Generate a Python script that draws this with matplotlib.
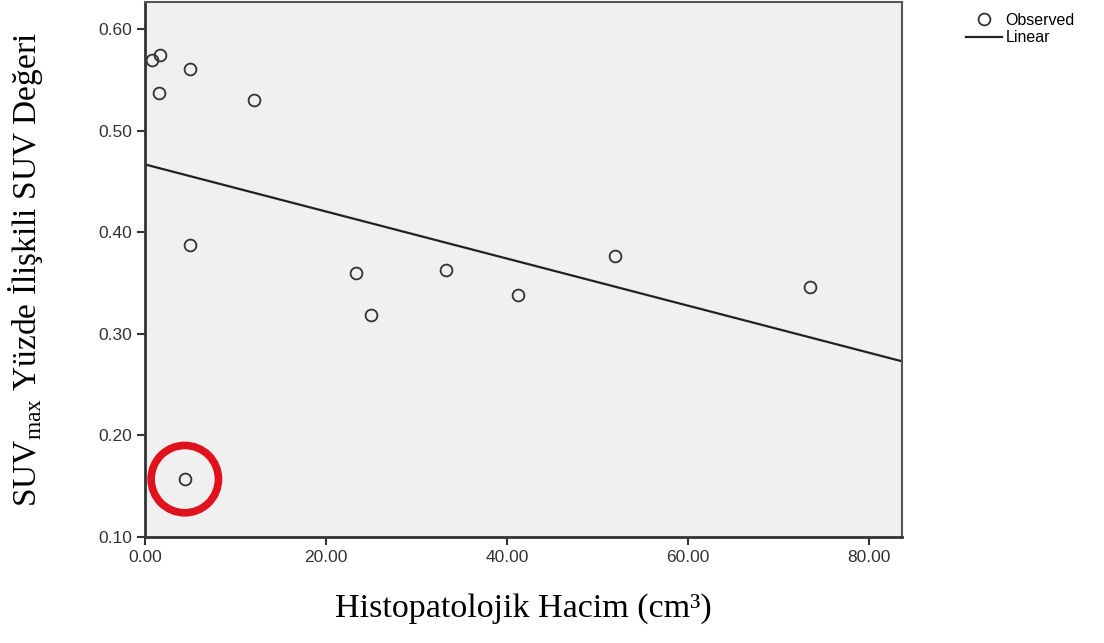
import numpy as np
import matplotlib
matplotlib.use('Agg')
import matplotlib.pyplot as plt
from matplotlib.ticker import FormatStrFormatter

# data
volume = [0.8, 1.7, 1.5, 5.0, 12.0, 5.0, 23.3, 25.0, 33.3, 41.2, 51.9, 73.4, 4.4]
suv_pct = [0.570, 0.575, 0.537, 0.561, 0.530, 0.388, 0.360, 0.319, 0.363, 0.338, 0.377, 0.346, 0.157]
fit_intercept = 0.467
fit_slope = -0.00232
outlier = (4.4, 0.157)
x_ticks = [0, 20, 40, 60, 80]
y_ticks = [0.1, 0.2, 0.3, 0.4, 0.5, 0.6]

plt.rcParams['mathtext.fontset'] = 'custom'
plt.rcParams['mathtext.rm'] = 'Liberation Serif'

fig = plt.figure(figsize=(11.04, 6.43), dpi=100)
ax = fig.add_axes([0.1313, 0.1649, 0.6857, 0.832])
ax.set_facecolor('#f0f0f0')

xlim = (0, 83.6)
ax.set_xlim(*xlim)
ax.set_ylim(0.1, 0.627)

xs = np.array(xlim)
ax.plot(xs, fit_intercept + fit_slope * xs, color='#222222', lw=1.6, label='Linear', zorder=2)
ax.plot(volume, suv_pct, 'o', ms=8.5, mfc='none', mec='#333333', mew=1.3, label='Observed', zorder=3)

# red highlight around the low point
ax.scatter([outlier[0]], [outlier[1]], s=2350, facecolors='none', edgecolors='#e0121e', linewidths=5.5, zorder=4)

ax.set_xticks(x_ticks)
ax.set_yticks(y_ticks)
ax.xaxis.set_major_formatter(FormatStrFormatter('%.2f'))
ax.yaxis.set_major_formatter(FormatStrFormatter('%.2f'))
ax.tick_params(direction='out', length=6, width=1.5, color='#333333', labelsize=12.5, labelcolor='#333333')
for lab in ax.get_xticklabels() + ax.get_yticklabels():
    lab.set_family('Liberation Sans')
for sp in ax.spines.values():
    sp.set_color('#555555')
    sp.set_linewidth(1.5)
ax.spines['left'].set_color('#333333')
ax.spines['bottom'].set_color('#333333')
ax.spines['left'].set_linewidth(2)
ax.spines['bottom'].set_linewidth(2)

ax.set_xlabel('Histopatolojik Hacim (cm³)', family='Liberation Serif', fontsize=24.5, labelpad=20)
ax.set_ylabel('SUV$_{\\mathrm{max}}$ Yüzde İlişkili SUV Değeri', family='Liberation Serif', fontsize=24, labelpad=38)

handles, labels = ax.get_legend_handles_labels()
fig.legend(handles[::-1], labels[::-1], loc='upper left', bbox_to_anchor=(0.863, 1.0),
           frameon=False, prop={'family': 'Liberation Sans', 'size': 11.5},
           handlelength=2.3, handletextpad=0.2, labelspacing=0.15, borderpad=0.3)

plt.savefig('out.png', dpi=100)
